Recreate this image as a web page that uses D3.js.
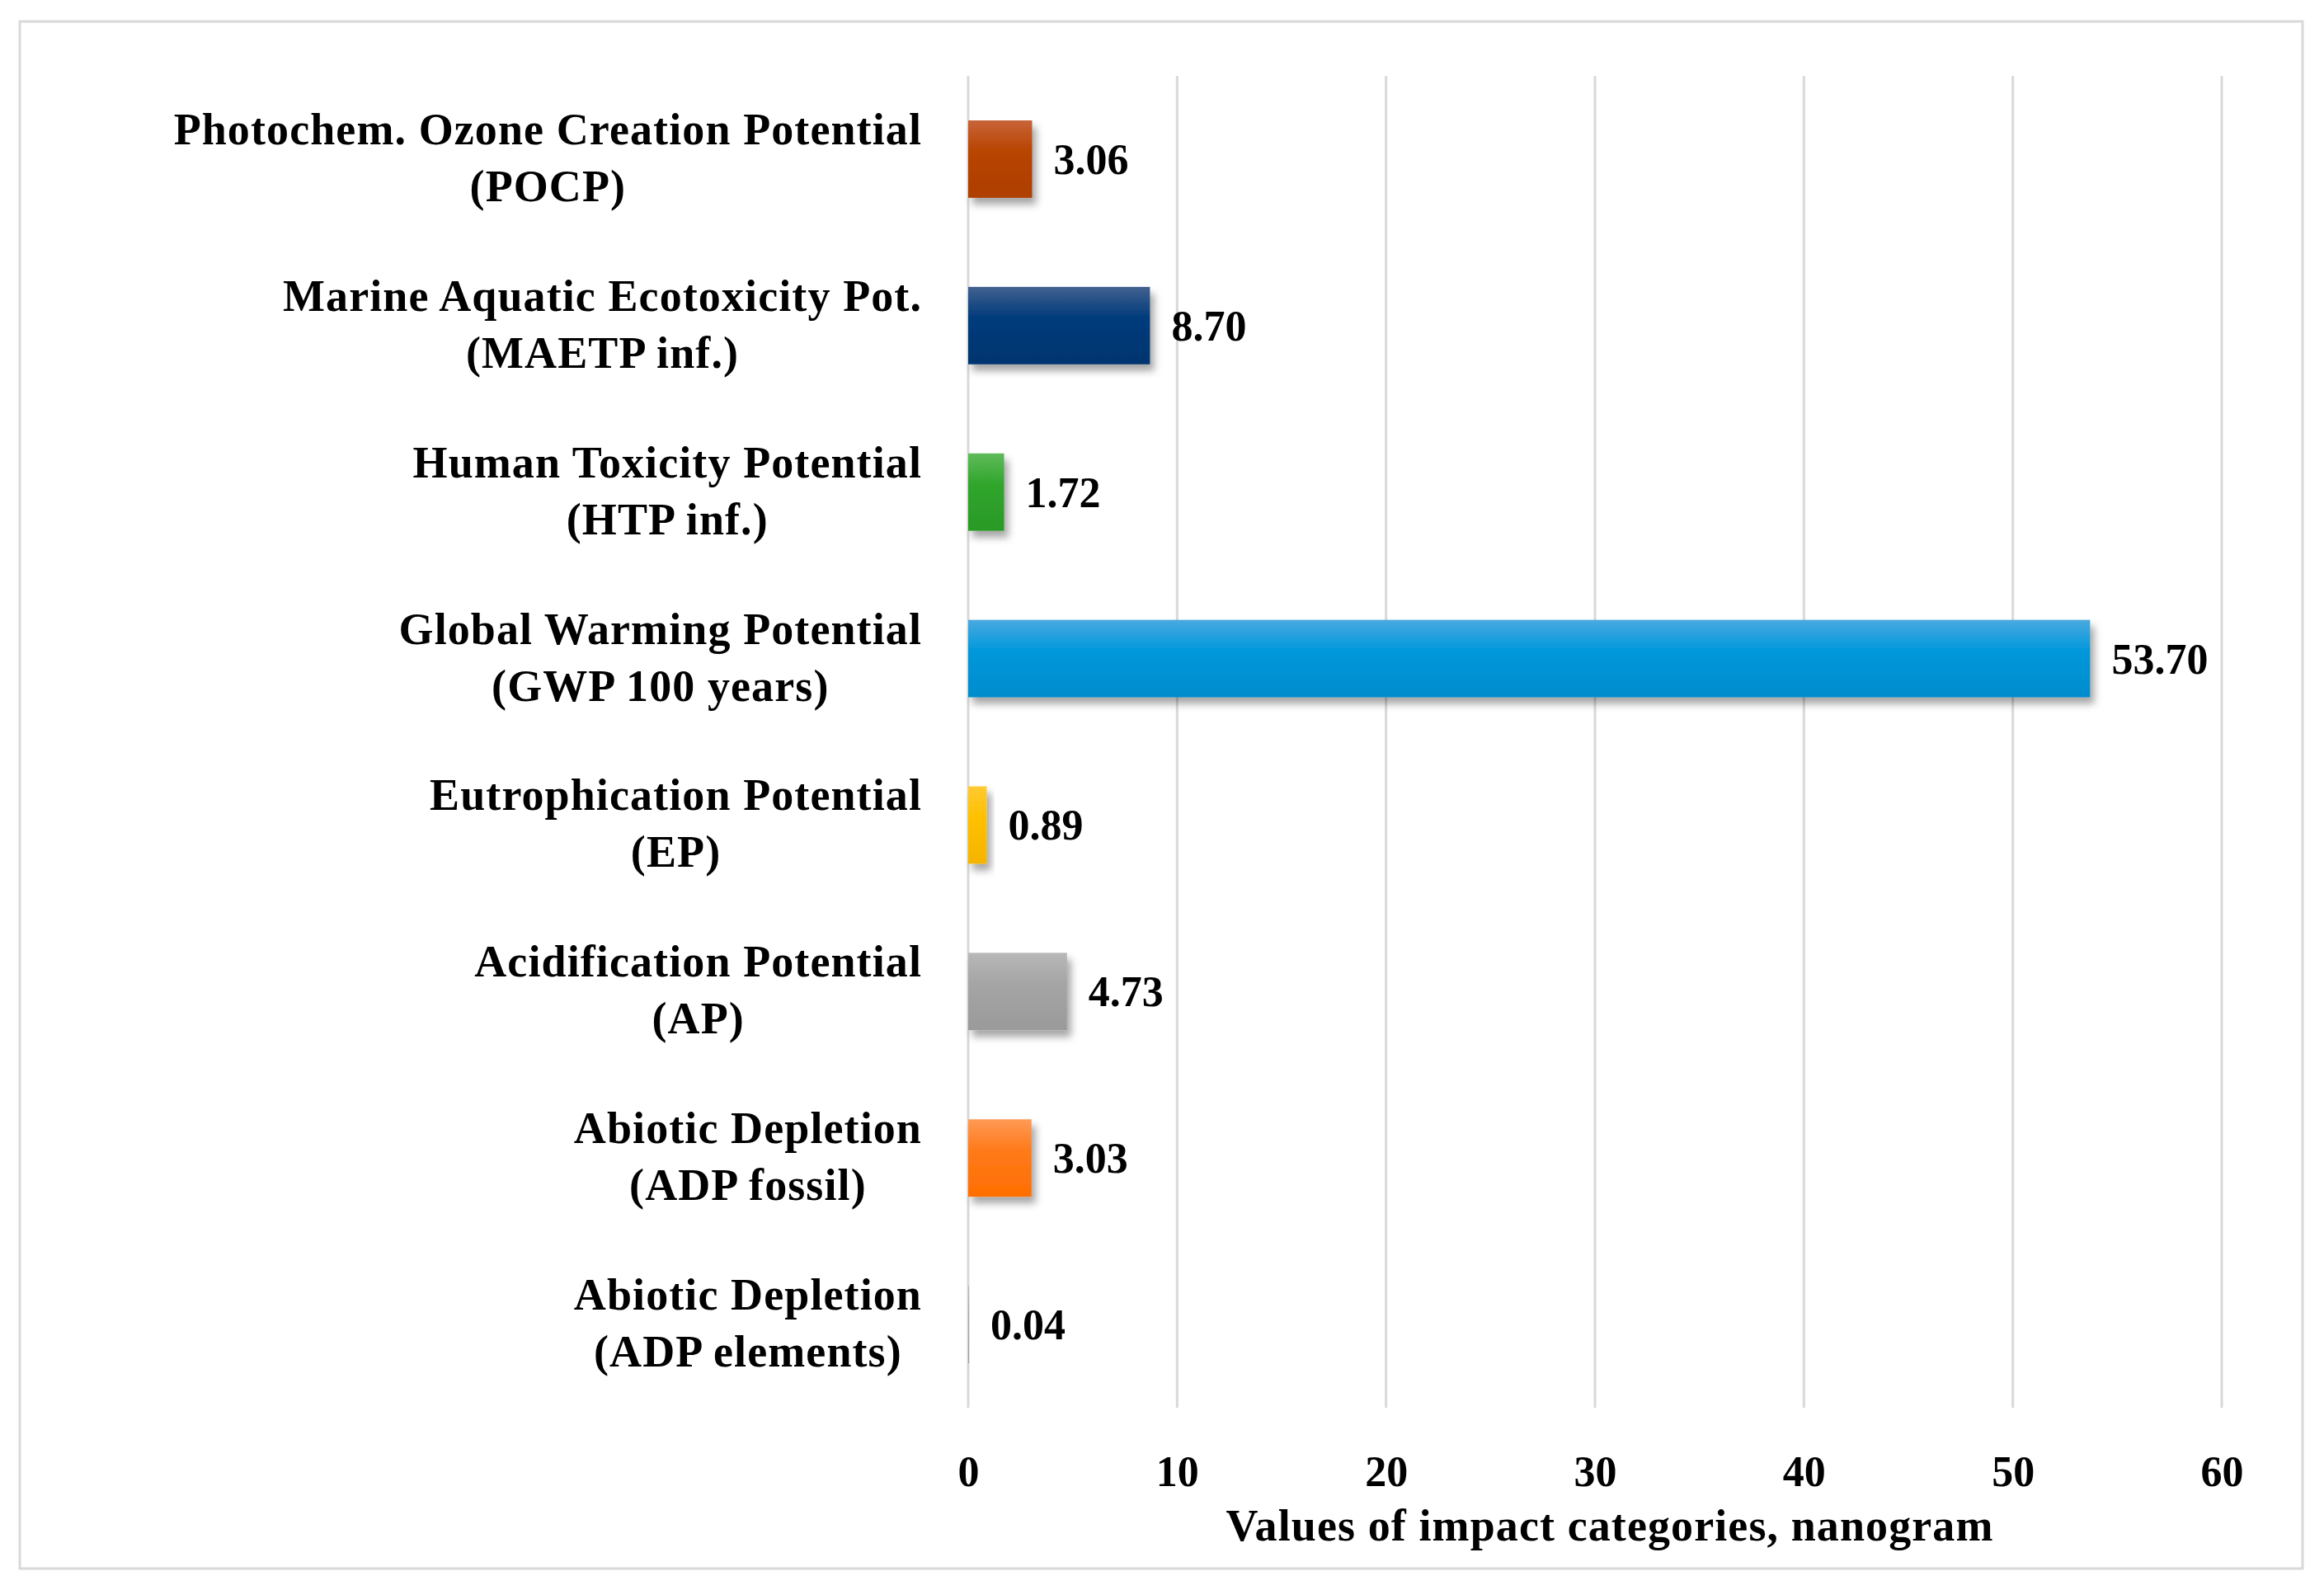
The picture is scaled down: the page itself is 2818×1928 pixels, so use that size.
<!DOCTYPE html>
<html lang="en">
<head>
<meta charset="utf-8">
<title>Impact categories</title>
<script src="https://cdn.jsdelivr.net/npm/d3@7"></script>
<style>
    body { margin: 0; background: #fff; }
    text { font-family: "Palatino Linotype", "Book Antiqua", Palatino, "Liberation Serif", serif; font-weight: bold; fill: #000; }
    .wide { letter-spacing: 1.1px; }
</style>
</head>
<body>
<svg id="chart"></svg>
<script>
    // data, top to bottom
    const labelLine1 = [
        "Photochem. Ozone Creation Potential",
        "Marine Aquatic Ecotoxicity Pot.",
        "Human Toxicity Potential",
        "Global Warming Potential",
        "Eutrophication Potential",
        "Acidification Potential",
        "Abiotic Depletion",
        "Abiotic Depletion"
    ];
    const labelLine2 = ["(POCP)", "(MAETP inf.)", "(HTP inf.)", "(GWP 100 years)", "(EP)", "(AP)", "(ADP fossil)", "(ADP elements)"];
    const values = [3.06, 8.70, 1.72, 53.70, 0.89, 4.73, 3.03, 0.04];
    const xTicks = [0, 10, 20, 30, 40, 50, 60];
    const barColors = [
        ["#c8643a", "#b84400", "#ae3f00"],
        ["#42618f", "#003b7c", "#00356f"],
        ["#5fbb5a", "#30a52c", "#2a9a27"],
        ["#4aa9e0", "#0098db", "#008ccc"],
        ["#ffca33", "#ffc000", "#f5b400"],
        ["#b8b8b8", "#a5a5a5", "#9a9a9a"],
        ["#ff9a55", "#ff7a1a", "#ff6e00"],
        ["#b8b8b8", "#a5a5a5", "#9a9a9a"]
    ];
    const xTitle = "Values of impact categories, nanogram";

    const W = 2818, H = 1928;
    const margin = {left: 1174, right: 2818 - 2694, top: 92, bottom: 1928 - 1707};
    const fontSize = 52;
    const labelSize = 54;

    const svg = d3.select("#chart").attr("width", W).attr("height", H);

    // outer frame
    svg.append("rect")
        .attr("x", 24).attr("y", 26)
        .attr("width", 2792 - 24).attr("height", 1902 - 26)
        .attr("fill", "#fff").attr("stroke", "#d9d9d9").attr("stroke-width", 3);

    const defs = svg.append("defs");
    const shadow = defs.append("filter").attr("id", "shadow")
        .attr("x", "-20%").attr("y", "-20%").attr("width", "160%").attr("height", "160%");
    shadow.append("feDropShadow")
        .attr("dx", 5).attr("dy", 8).attr("stdDeviation", 5)
        .attr("flood-color", "#000").attr("flood-opacity", 0.35);

    barColors.forEach((c, i) => {
        const g = defs.append("linearGradient").attr("id", "grad" + i)
            .attr("x1", 0).attr("y1", 0).attr("x2", 0).attr("y2", 1);
        g.append("stop").attr("offset", "0%").attr("stop-color", c[0]);
        g.append("stop").attr("offset", "40%").attr("stop-color", c[1]);
        g.append("stop").attr("offset", "100%").attr("stop-color", c[2]);
    });

    const x = d3.scaleLinear().domain([0, 60]).range([margin.left, W - margin.right]);
    const y = d3.scaleBand().domain(d3.range(values.length))
        .range([margin.top, H - margin.bottom]).paddingInner(0.535).paddingOuter(0.2675);

    // gridlines
    svg.append("g").selectAll("line").data(xTicks).join("line")
        .attr("x1", d => x(d)).attr("x2", d => x(d))
        .attr("y1", margin.top).attr("y2", H - margin.bottom)
        .attr("stroke", "#d9d9d9").attr("stroke-width", 3);

    // x axis tick labels
    const xAxis = d3.axisBottom(x).tickValues(xTicks).tickSize(0).tickPadding(0);
    const gx = svg.append("g").attr("transform", `translate(0,${H - margin.bottom})`).call(xAxis);
    gx.attr("font-family", null);
    gx.select(".domain").remove();
    gx.selectAll("text")
        .attr("y", 95).attr("dy", 0)
        .style("font-size", fontSize + "px");

    svg.append("text")
        .attr("class", "wide")
        .attr("x", (x(0) + x(60)) / 2 + 18).attr("y", 1868)
        .attr("text-anchor", "middle")
        .style("font-size", labelSize + "px")
        .text(xTitle);

    // bars
    svg.append("g").selectAll("rect").data(values).join("rect")
        .attr("x", x(0))
        .attr("y", (d, i) => y(i))
        .attr("width", d => x(d) - x(0))
        .attr("height", y.bandwidth())
        .attr("fill", (d, i) => `url(#grad${i})`)
        .attr("filter", "url(#shadow)");

    // value labels
    svg.append("g").selectAll("text").data(values).join("text")
        .attr("x", d => x(d) + 26)
        .attr("y", (d, i) => y(i) + y.bandwidth() / 2 + 18)
        .style("font-size", fontSize + "px")
        .text(d => d.toFixed(2));

    // category labels, two centered lines, block right-aligned
    const labelRight = 1118;
    const cat = svg.append("g").selectAll("g").data(values).join("g");
    cat.each(function(d, i) {
        const g = d3.select(this);
        const cy = y(i) + y.bandwidth() / 2;
        const t1 = g.append("text").attr("class", "wide").attr("y", cy - 18)
            .style("font-size", labelSize + "px")
            .attr("text-anchor", "middle").text(labelLine1[i]);
        const t2 = g.append("text").attr("class", "wide").attr("y", cy + 51)
            .style("font-size", labelSize + "px")
            .attr("text-anchor", "middle").text(labelLine2[i]);
        const w = Math.max(t1.node().getComputedTextLength(), t2.node().getComputedTextLength());
        t1.attr("x", labelRight - w / 2);
        t2.attr("x", labelRight - w / 2);
    });
</script>
</body>
</html>
